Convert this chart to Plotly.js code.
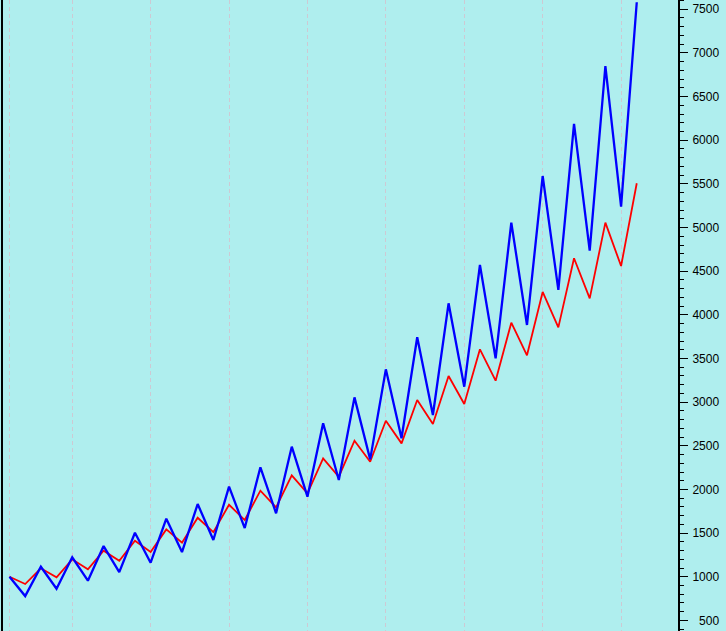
<!DOCTYPE html>
<html>
<head>
<meta charset="utf-8">
<script src="https://cdn.plot.ly/plotly-3.0.1.min.js"></script>
<style>
html,body{margin:0;padding:0;background:#AFEEEE;overflow:hidden;}
#chart{width:726px;height:631px;}
</style>
</head>
<body>
<div id="chart"></div>
<script>
const periods = [0,1,2,3,4,5,6,7,8,9,10,11,12,13,14,15,16,17,18,19,20,21,22,23,24,25,26,27,28,29,30,31,32,33,34,35,36,37,38,39,40];
const blueSeries = [1000, 779, 1115, 863, 1223, 955, 1352, 1054, 1504, 1161, 1665, 1283, 1833, 1421, 2032, 1558, 2254, 1727, 2490, 1917, 2758, 2108, 3055, 2345, 3376, 2586, 3743, 2853, 4132, 3177, 4571, 3502, 5056, 3884, 5590, 4285, 6186, 4735, 6850, 5239, 7580];
const redSeries = [1000, 917, 1097, 994, 1200, 1085, 1298, 1184, 1413, 1283, 1543, 1390, 1676, 1512, 1825, 1650, 1986, 1795, 2162, 1956, 2357, 2146, 2558, 2318, 2787, 2528, 3024, 2750, 3300, 2979, 3605, 3246, 3910, 3537, 4262, 3857, 4648, 4189, 5056, 4559, 5507];
const gridPeriods = [0,4,9,14,19,24,29,34,39];
const yTickVals = [500,1000,1500,2000,2500,3000,3500,4000,4500,5000,5500,6000,6500,7000,7500];
const yTickText = ['\u2007500','1000','1500','2000','2500','3000','3500','4000','4500','5000','5500','6000','6500','7000','7500'];

const traces = [
  {x: periods, y: redSeries, type: 'scatter', mode: 'lines', line: {color: '#FF0000', width: 1.8}, hoverinfo: 'skip'},
  {x: periods, y: blueSeries, type: 'scatter', mode: 'lines', line: {color: '#0000FF', width: 2.3}, hoverinfo: 'skip'}
];

const layout = {
  width: 726, height: 631,
  margin: {l: 2, r: 48, t: 0, b: 0, pad: 0},
  paper_bgcolor: '#AFEEEE',
  plot_bgcolor: '#AFEEEE',
  showlegend: false,
  font: {family: 'Liberation Sans, Arial, sans-serif', size: 12, color: '#000'},
  xaxis: {
    range: [-0.478, 42.63],
    tickmode: 'array', tickvals: gridPeriods,
    showticklabels: false, ticks: '',
    showgrid: true, gridcolor: '#CDC9D3', gridwidth: 1, griddash: '4px,3px',
    zeroline: false, showline: false, fixedrange: true
  },
  yaxis: {
    side: 'right',
    range: [379, 7606],
    tickmode: 'array', tickvals: yTickVals, ticktext: yTickText,
    ticks: 'outside', ticklen: 8, tickwidth: 1, tickcolor: '#000',
    minor: {dtick: 100, ticks: 'outside', ticklen: 4, tickwidth: 1, tickcolor: '#000', showgrid: false},
    showgrid: false, zeroline: false,
    showline: true, linecolor: '#000', linewidth: 2,
    tickfont: {family: 'Liberation Sans, Arial, sans-serif', size: 12, color: '#000'},
    ticklabelstandoff: 2,
    fixedrange: true
  },
  shapes: [
    {type: 'line', xref: 'paper', yref: 'paper', x0: 0, x1: 0, y0: 0, y1: 1, line: {color: '#000', width: 2}, layer: 'above'}
  ]
};

Plotly.newPlot('chart', traces, layout, {displayModeBar: false, staticPlot: true});
</script>
</body>
</html>
